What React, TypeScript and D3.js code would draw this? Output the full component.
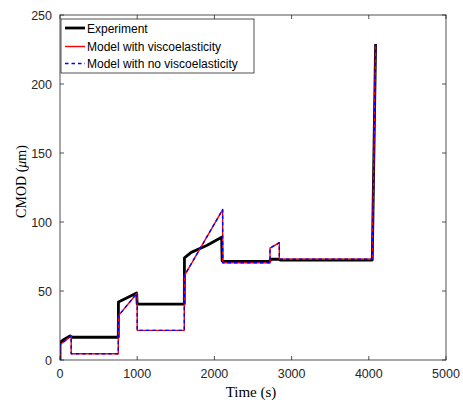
import React from 'react'
import * as d3 from 'd3'

// experiment (black)
const expT = [0, 0, 40, 130, 160, 755, 757, 850, 993, 1000, 1610, 1612, 1700, 1900, 2094, 2100, 2107, 2720, 2725, 2840, 2850, 4045, 4088]
const expV = [0, 12.5, 14.5, 17.5, 16.5, 16.5, 42, 44.5, 48.5, 40.5, 40.5, 74, 78, 83, 89, 72, 71.5, 71.5, 73, 73, 72.4, 72.4, 229]

// model with / without viscoelasticity (same curve)
const modT = [0, 0, 145, 145, 755, 755, 1000, 1000, 1610, 1610, 2107, 2107, 2720, 2720, 2841, 2841, 4045, 4088]
const modV = [0, 11, 17.5, 4.5, 4.5, 32, 48.5, 21.5, 21.5, 61, 109, 70.5, 70.5, 81, 85, 73, 73, 229]

const xTicks = [0, 1000, 2000, 3000, 4000, 5000]
const yTicks = [0, 50, 100, 150, 200, 250]

const legendItems = ['Experiment', 'Model with viscoelasticity', 'Model with no viscoelasticity']

const W = 463
const H = 402
const left = 60
const right = 446
const top = 15
const bottom = 360

export default function App() {
  const x = d3.scaleLinear().domain([0, 5000]).range([left, right])
  const y = d3.scaleLinear().domain([0, 250]).range([bottom, top])

  const path = (ts: number[], vs: number[]) =>
    d3.line<number>()
      .x((d) => x(d))
      .y((d, i) => y(vs[i]))(ts) || ''

  const axisColor = '#262626'
  const tickLen = 4
  const sans = "'Liberation Sans', Arial, sans-serif"
  const serif = "'Liberation Serif', 'DejaVu Serif', serif"

  return (
    <svg width={W} height={H} style={{ position: 'absolute', left: 0, top: 0, background: '#fff' }}>
      <rect x={0} y={0} width={W} height={H} fill="#fff" />
      <defs>
        <clipPath id="plot">
          <rect x={left} y={top} width={right - left} height={bottom - top} />
        </clipPath>
      </defs>

      {/* data */}
      <g clipPath="url(#plot)" fill="none" strokeLinejoin="round">
        <path d={path(expT, expV)} stroke="#000" strokeWidth={2.8} />
        <path d={path(modT, modV)} stroke="#ff0000" strokeWidth={1.4} />
        <path d={path(modT, modV)} stroke="#0000ff" strokeWidth={1.4} strokeDasharray="3.5,3" />
      </g>

      {/* frame and ticks */}
      <rect x={left} y={top} width={right - left} height={bottom - top} fill="none" stroke={axisColor} strokeWidth={0.8} />
      {xTicks.map((t) => (
        <g key={'x' + t}>
          <line x1={x(t)} x2={x(t)} y1={bottom} y2={bottom - tickLen} stroke={axisColor} strokeWidth={0.8} />
          <line x1={x(t)} x2={x(t)} y1={top} y2={top + tickLen} stroke={axisColor} strokeWidth={0.8} />
          <text x={x(t)} y={bottom + 17.5} textAnchor="middle" fontFamily={sans} fontSize={12.5} fill={axisColor}>
            {t}
          </text>
        </g>
      ))}
      {yTicks.map((t) => (
        <g key={'y' + t}>
          <line x1={left} x2={left + tickLen} y1={y(t)} y2={y(t)} stroke={axisColor} strokeWidth={0.8} />
          <line x1={right} x2={right - tickLen} y1={y(t)} y2={y(t)} stroke={axisColor} strokeWidth={0.8} />
          <text x={left - 8} y={y(t) + 4.5} textAnchor="end" fontFamily={sans} fontSize={12.5} fill={axisColor}>
            {t}
          </text>
        </g>
      ))}

      {/* axis labels */}
      <text x={(left + right) / 2 - 2} y={bottom + 37} textAnchor="middle" fontFamily={serif} fontSize={15} fill="#000">
        Time (s)
      </text>
      <text transform={`translate(26,${(top + bottom) / 2 - 6}) rotate(-90)`} textAnchor="middle" fontFamily={serif} fontSize={14} fill="#000">
        CMOD (<tspan fontStyle="italic">μ</tspan>m)
      </text>

      {/* legend */}
      <g>
        <rect x={61} y={19} width={193} height={54} fill="#fff" stroke={axisColor} strokeWidth={0.8} />
        {legendItems.map((name, i) => {
          const ly = 28 + Math.round(i * 17.5)
          return (
            <g key={name}>
              {i === 0 && <line x1={65} x2={85} y1={ly} y2={ly} stroke="#000" strokeWidth={2.8} />}
              {i === 1 && <line x1={65} x2={85} y1={ly + 0.5} y2={ly + 0.5} stroke="#ff0000" strokeWidth={1.4} />}
              {i === 2 && <line x1={65} x2={85} y1={ly + 0.5} y2={ly + 0.5} stroke="#0000ff" strokeWidth={1.4} strokeDasharray="3.5,3" />}
              <text x={87} y={ly + 4.5} fontFamily={sans} fontSize={12} fill="#000">
                {name}
              </text>
            </g>
          )
        })}
      </g>
    </svg>
  )
}
